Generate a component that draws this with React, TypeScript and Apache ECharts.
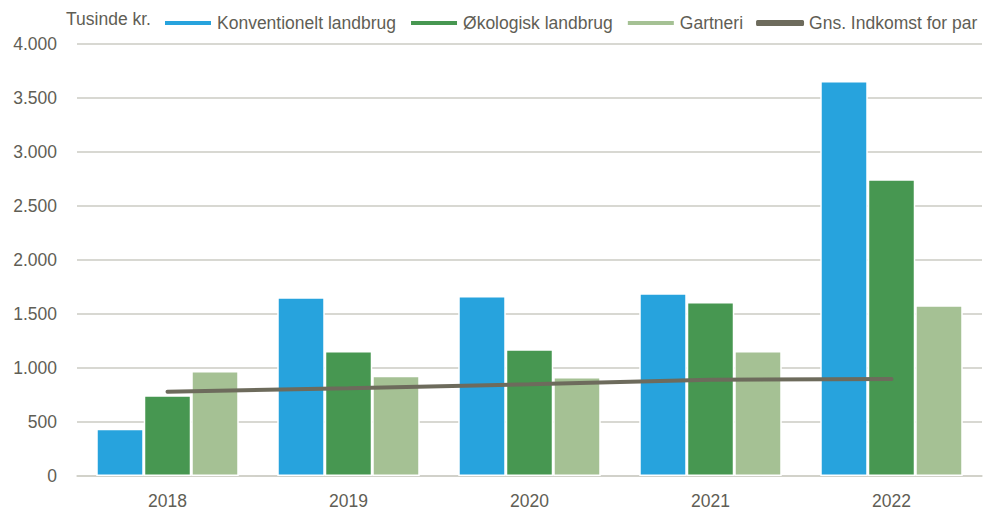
import React, { useEffect, useRef } from "react";
import * as echarts from "echarts";

const years = ["2018", "2019", "2020", "2021", "2022"];
const konventionelt = [438, 1655, 1667, 1691, 3657];
const oekologisk = [747, 1157, 1173, 1611, 2747];
const gartneri = [972, 929, 917, 1157, 1580];
const indkomst = [780, 812, 849, 892, 898];

const seriesNames = ["Konventionelt landbrug", "Økologisk landbrug", "Gartneri", "Gns. Indkomst for par"];
const textColor = "#5f5e55";
const font = "Liberation Sans, Arial, sans-serif";
const fs = 17.5;

export default function App() {
  const ref = useRef<HTMLDivElement>(null);
  useEffect(() => {
    const chart = echarts.init(ref.current!, null, { renderer: "svg" });
    const barBase = {
      type: "bar" as const,
      barWidth: 47.5,
      barGap: "0%",
      itemStyle: { borderColor: "#ffffff", borderWidth: 1.5 },
    };
    chart.setOption({
      animation: false,
      textStyle: { fontFamily: font },
      grid: { left: 77, right: 10, top: 44, bottom: 35 },
      graphic: [
        {
          type: "text",
          left: 66,
          top: 10,
          style: { text: "Tusinde kr.", fill: textColor, font: `${fs}px ${font}` },
        },
      ],
      legend: {
        left: 158,
        top: 9,
        itemWidth: 48,
        itemHeight: 6,
        itemGap: 13,
        textStyle: { color: textColor, fontSize: fs, fontFamily: font },
        data: [
          { name: seriesNames[0], icon: "rect" },
          { name: seriesNames[1], icon: "rect" },
          { name: seriesNames[2], icon: "rect" },
          { name: seriesNames[3], icon: "roundRect" },
        ],
      },
      xAxis: {
        type: "category",
        data: years,
        axisLine: { lineStyle: { color: "#cfcfc7", width: 1.5 } },
        axisTick: { show: false },
        axisLabel: { color: textColor, fontSize: fs, fontFamily: font, margin: 16 },
      },
      yAxis: {
        type: "value",
        min: 0,
        max: 4000,
        interval: 500,
        axisLine: { show: false },
        axisTick: { show: false },
        splitLine: { lineStyle: { color: "#cbcbc3", width: 1.5 } },
        axisLabel: {
          color: textColor,
          fontSize: fs,
          fontFamily: font,
          margin: 20,
          formatter: (v: number) => v.toLocaleString("da-DK").replace(/,/g, "."),
        },
      },
      series: [
        { ...barBase, name: seriesNames[0], data: konventionelt, itemStyle: { ...barBase.itemStyle, color: "#27a3dd" } },
        { ...barBase, name: seriesNames[1], data: oekologisk, itemStyle: { ...barBase.itemStyle, color: "#479751" } },
        { ...barBase, name: seriesNames[2], data: gartneri, itemStyle: { ...barBase.itemStyle, color: "#a5c194" } },
        {
          type: "line",
          name: seriesNames[3],
          data: indkomst,
          symbol: "none",
          z: 5,
          itemStyle: { color: "#6d6b5c" },
          lineStyle: { color: "#6d6b5c", width: 4, cap: "round" },
        },
      ],
    });
    return () => chart.dispose();
  }, []);
  return <div ref={ref} style={{ width: 992, height: 511, position: "absolute", left: 0, top: 0 }} />;
}
